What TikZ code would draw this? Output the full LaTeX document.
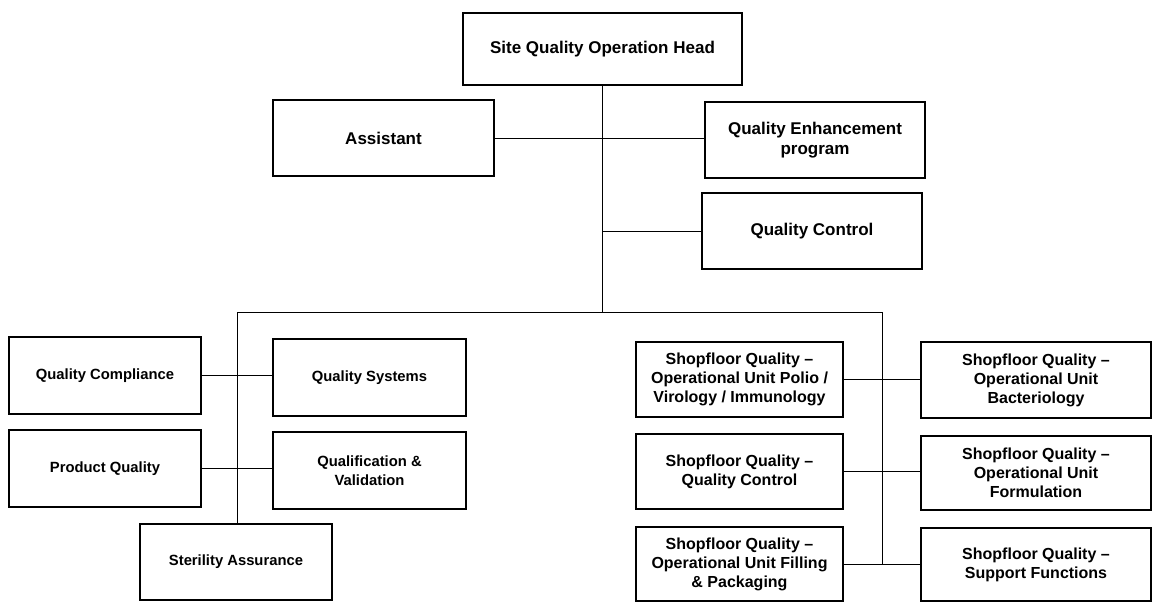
\documentclass[tikz,border=0pt]{standalone}
\usepackage{fontspec}
\setmainfont{Liberation Sans}
\begin{document}
\begin{tikzpicture}[x=1pt,y=-1pt,
  box/.style={draw=black, line width=2.3pt, rectangle, inner sep=0pt, outer sep=0pt, align=center, font=\bfseries\fontsize{14.8}{19}\selectfont},
  rbox/.style={box, font=\bfseries\fontsize{16}{19}\selectfont},
  bigbox/.style={box, font=\bfseries\fontsize{17}{19.5}\selectfont},
  link/.style={draw=black, line width=0.9pt}]
\useasboundingbox (0,0) rectangle (1155,602);
% top
\node[bigbox, minimum width=279pt, minimum height=72pt] (head) at (602.5,49) {Site Quality Operation Head};
\node[bigbox, minimum width=221pt, minimum height=76pt] (asst) at (383.5,138) {Assistant};
\node[bigbox, minimum width=220pt, minimum height=76pt] (qep) at (815,140) {Quality Enhancement\\program};
\node[bigbox, minimum width=220pt, minimum height=76pt] (qc) at (812,231) {Quality Control};
% left group
\node[box, minimum width=192pt, minimum height=77pt] (qcomp) at (105,375.5) {Quality Compliance};
\node[box, minimum width=193pt, minimum height=77pt] (qsys) at (369.5,377.5) {Quality Systems};
\node[box, minimum width=192pt, minimum height=77pt] (pq) at (105,468.5) {Product Quality};
\node[box, minimum width=193pt, minimum height=77pt] (qv) at (369.5,470.5) {Qualification \&\\Validation};
\node[box, minimum width=192pt, minimum height=76pt] (ster) at (236,562) {Sterility Assurance};
% right group
\node[rbox, minimum width=207pt, minimum height=75pt] (sqpolio) at (739.5,379.5) {Shopfloor Quality –\\Operational Unit Polio /\\Virology / Immunology};
\node[rbox, minimum width=230pt, minimum height=76pt] (sqbact) at (1036,380) {Shopfloor Quality –\\Operational Unit\\Bacteriology};
\node[rbox, minimum width=207pt, minimum height=75pt] (sqqc) at (739.5,471.5) {Shopfloor Quality –\\Quality Control};
\node[rbox, minimum width=230pt, minimum height=74pt] (sqform) at (1036,473) {Shopfloor Quality –\\Operational Unit\\Formulation};
\node[rbox, minimum width=207pt, minimum height=74pt] (sqfill) at (739.5,564) {Shopfloor Quality –\\Operational Unit Filling\\\& Packaging};
\node[rbox, minimum width=230pt, minimum height=73pt] (sqsup) at (1036,564.5) {Shopfloor Quality –\\Support Functions};
% connectors
\coordinate (tL) at (237,312);
\coordinate (tR) at (882,312);
\draw[link] (head.south) -- (head.south |- tL);
\draw[link] (tL) -- (tR);
\draw[link] (tL) -- (tL |- ster.north);
\draw[link] (tR) -- (tR |- sqfill.east);
\draw[link] (asst.east) -- (asst.east -| qep.west);
\draw[link] (head.south |- qc.west) -- (qc.west);
\draw[link] (qcomp.east) -- (qcomp.east -| qsys.west);
\draw[link] (pq.east) -- (pq.east -| qv.west);
\draw[link] (sqpolio.east) -- (sqpolio.east -| sqbact.west);
\draw[link] (sqqc.east) -- (sqqc.east -| sqform.west);
\draw[link] (sqfill.east) -- (sqfill.east -| sqsup.west);
\end{tikzpicture}
\end{document}
